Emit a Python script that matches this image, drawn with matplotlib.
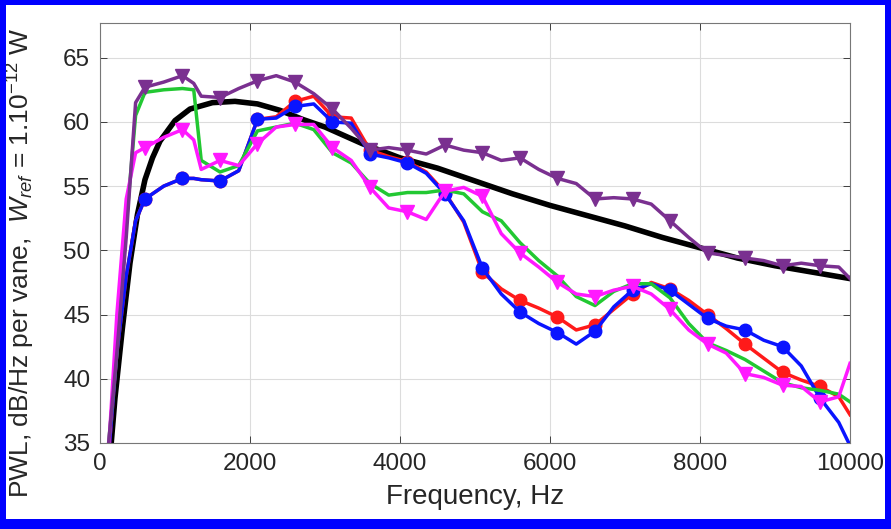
import numpy as np
import matplotlib
matplotlib.use('Agg')
import matplotlib.pyplot as plt
from matplotlib.patches import Rectangle

plt.rcParams['font.family'] = ['Liberation Sans', 'DejaVu Sans']
plt.rcParams['mathtext.fontset'] = 'custom'
plt.rcParams['mathtext.rm'] = 'Liberation Sans'
plt.rcParams['mathtext.it'] = 'Liberation Sans:italic'

# frequency grid of the measured spectra, Hz
freq = [100, 225, 350, 475, 600, 850, 1100, 1250, 1350, 1600, 1850, 2100, 2350, 2600,
        2850, 3100, 3350, 3600, 3850, 4100, 4350, 4600, 4850, 5100, 5350, 5600,
        5850, 6100, 6350, 6600, 6850, 7100, 7350, 7600, 7850, 8100, 8350, 8600,
        8850, 9100, 9350, 9600, 9850, 10000]

pwl_red = [33, 42, 48, 52.3, 54.0, 55.0, 55.6, 55.6, 55.5, 55.4, 56.2, 60.2, 60.4, 61.6,
           62.0, 60.4, 60.3, 57.8, 57.3, 56.9, 56.1, 54.5, 52.2, 48.3, 47.0, 46.1,
           45.5, 44.8, 43.8, 44.2, 45.4, 46.6, 47.5, 47.0, 46.1, 45.0, 43.9, 42.7,
           41.6, 40.5, 39.9, 39.4, 38.6, 37.2]
pwl_blue = [33, 42, 48, 52.3, 54.0, 55.0, 55.6, 55.6, 55.5, 55.4, 56.2, 60.2, 60.3, 61.2,
            61.4, 60.0, 59.9, 57.5, 57.2, 56.8, 56.0, 54.4, 52.3, 48.6, 46.6, 45.2,
            44.3, 43.6, 42.7, 43.7, 45.6, 46.9, 47.4, 46.9, 45.8, 44.7, 44.1, 43.8,
            43.0, 42.5, 41.0, 38.5, 36.6, 34.8]
pwl_green = [34, 42, 52, 60.5, 62.3, 62.5, 62.6, 62.5, 57.0, 56.1, 56.6, 59.3, 59.6, 59.9,
             59.4, 57.6, 56.8, 55.2, 54.3, 54.5, 54.5, 54.7, 54.4, 53.0, 52.3, 50.6,
             49.2, 48.0, 46.4, 45.7, 46.8, 47.4, 47.4, 46.3, 44.3, 42.8, 42.2, 41.5,
             40.6, 39.7, 39.3, 39.1, 38.8, 38.2]
pwl_magenta = [33, 45, 54, 57.6, 58.0, 58.8, 59.4, 58.6, 56.3, 57.0, 56.6, 58.3, 59.6, 59.8,
               59.8, 58.0, 57.0, 54.9, 53.3, 53.0, 52.4, 54.6, 54.9, 54.2, 51.3, 49.8,
               48.7, 47.5, 46.6, 46.4, 46.9, 47.2, 46.6, 45.4, 43.8, 42.7, 42.0, 40.4,
               40.1, 39.5, 39.4, 38.2, 38.6, 41.2]
pwl_purple = [34, 42, 51, 61.5, 62.7, 63.1, 63.6, 63.0, 62.0, 61.9, 62.6, 63.2, 63.6, 63.1,
              62.2, 61.0, 59.5, 57.8, 58.0, 57.8, 57.5, 58.2, 57.8, 57.6, 57.0, 57.2,
              56.3, 55.6, 55.2, 54.0, 54.1, 54.0, 53.6, 52.3, 51.0, 49.8, 49.6, 49.4,
              49.2, 48.8, 49.0, 48.8, 48.7, 47.8]

# smooth prediction (black)
freq_model = [150, 200, 300, 400, 500, 600, 700, 800, 1000, 1200, 1500, 1800, 2100,
              2400, 2700, 3000, 3500, 4000, 4500, 5000, 5500, 6000, 6500, 7000,
              7500, 8000, 8500, 9000, 9500, 10000]
pwl_model = [35, 38.5, 44, 49, 52.8, 55.5, 57.2, 58.5, 60.1, 61.0, 61.5, 61.6, 61.4,
             60.9, 60.2, 59.6, 58.3, 57.2, 56.4, 55.4, 54.4, 53.5, 52.7, 51.9, 51.0,
             50.2, 49.4, 48.8, 48.3, 47.8]

marker_freq = np.arange(600, 10000, 500)
mk = list(np.where(np.isin(freq, marker_freq))[0])

fig = plt.figure(figsize=(8.91, 5.29), dpi=100)
ax = fig.add_axes([0.1122, 0.1626, 0.8418, 0.7939])

ax.plot(freq_model, pwl_model, color='k', lw=4.0, zorder=2)
ax.plot(freq, pwl_red, color='#ff1a1a', lw=2.5, marker='o', ms=9, markevery=mk, zorder=3)
ax.plot(freq, pwl_blue, color='#0a14ff', lw=2.5, marker='o', ms=9, markevery=mk, zorder=4)
ax.plot(freq, pwl_green, color='#22c832', lw=2.5, zorder=5)
ax.plot(freq, pwl_magenta, color='#ff19ff', lw=2.5, marker='v', ms=9.5, markevery=mk, zorder=6)
ax.plot(freq, pwl_purple, color='#7a3090', lw=2.5, marker='v', ms=9.5, markevery=mk, zorder=7)

ax.set_xlim(0, 10000)
ax.set_ylim(35, 67.7)
ax.set_xticks([0, 2000, 4000, 6000, 8000, 10000])
ax.set_yticks([35, 40, 45, 50, 55, 60, 65])
ax.grid(True, color='#dcdcdc', lw=0.8)
ax.set_axisbelow(True)
ax.tick_params(direction='in', top=True, right=True, labelsize=17.5, colors='#262626',
               length=5, width=0.6, pad=7)
for s in ax.spines.values():
    s.set_color('#777777')
    s.set_linewidth(0.8)

ax.set_xlabel('Frequency, Hz', fontsize=20, color='#262626', labelpad=7)
ax.set_ylabel(r'PWL, dB/Hz per vane,  $W_{ref}$ = 1.10$^{-12}$ W', fontsize=19,
              color='#262626')
ax.yaxis.set_label_coords(-0.084, 0.43)

# blue frame around the figure (pixels)
W, H = 891, 529
for x0, y0, w, h in [(0, 0, 6, H), (W - 6, 0, 6, H), (0, H - 5, W, 5), (0, 0, W, 10)]:
    fig.add_artist(Rectangle((x0 / W, y0 / H), w / W, h / H, transform=fig.transFigure,
                             color='#0000ff', lw=0))

fig.savefig('out.png', dpi=100)
